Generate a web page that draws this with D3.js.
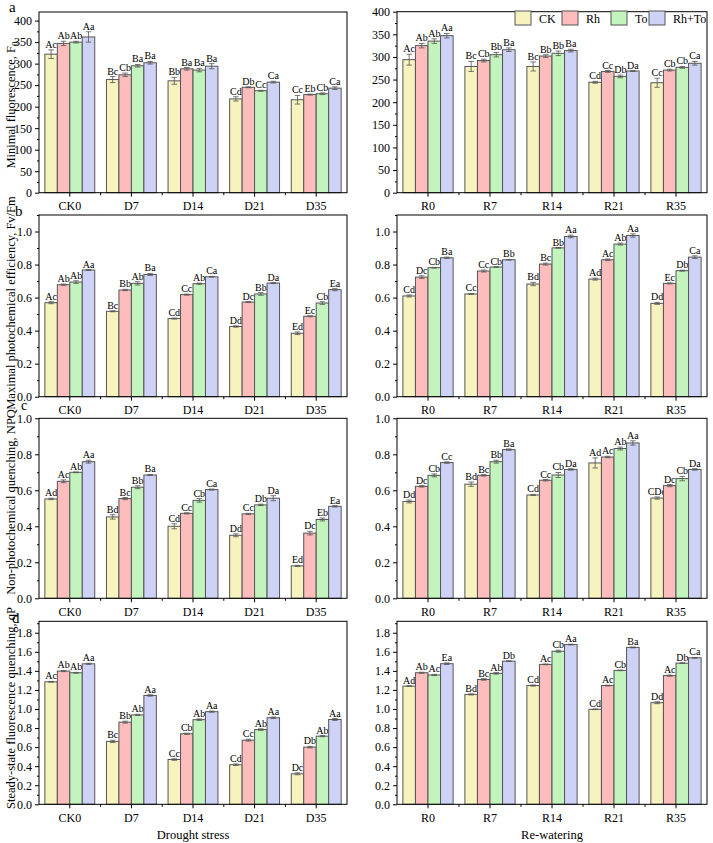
<!DOCTYPE html>
<html>
<head>
<meta charset="utf-8">
<script src="https://cdn.jsdelivr.net/npm/d3@7"></script>
<style>
  body { margin: 0; background: #fff; }
  svg, svg text { font-family: "Liberation Serif", "Times New Roman", serif; }
  .tick text { font-size: 12px; fill: #000; font-family: "Liberation Serif", "Times New Roman", serif; }
  .tick line { stroke: #000; }
</style>
</head>
<body>
<script>
// categories and series
var droughtCats = ["CK0", "D7", "D14", "D21", "D35"];
var rewaterCats = ["R0", "R7", "R14", "R21", "R35"];
var seriesNames = ["CK", "Rh", "To", "Rh+To"];
var seriesColors = ["#f7f3bf", "#fdbdbd", "#c3f4bd", "#ced2f6"];

// a: minimal fluorescence F0
var f0Drought    = [[322, 347, 350, 362], [263, 274, 295, 302], [260, 288, 285, 294], [218, 245, 237, 257], [216, 228, 230, 243]];
var f0DroughtErr = [[10, 5, 2, 12], [7, 4, 3, 3], [8, 3, 4, 6], [5, 1, 1, 2], [10, 1, 2, 3]];
var f0DroughtSig = [["Ac","Ab","Ab","Aa"], ["Bc","Cb","Ba","Ba"], ["Bb","Ba","Ba","Ba"], ["Cd","Db","Cc","Ca"], ["Cc","Eb","Cb","Ca"]];
var f0Rewater    = [[294, 325, 335, 347], [279, 292, 305, 316], [279, 302, 308, 314], [244, 268, 257, 269], [243, 271, 277, 286]];
var f0RewaterErr = [[12, 5, 5, 5], [11, 3, 5, 4], [10, 3, 5, 3], [2, 2, 3, 1], [10, 2, 2, 4]];
var f0RewaterSig = [["Ac","Ab","Ab","Aa"], ["Bc","Cb","Bb","Ba"], ["Bc","Bb","Bb","Ba"], ["Cd","Cc","Db","Da"], ["Cc","Cb","Cb","Ca"]];

// b: Fv/Fm
var fvDrought    = [[0.569, 0.678, 0.694, 0.767], [0.517, 0.646, 0.686, 0.740], [0.473, 0.618, 0.684, 0.726], [0.425, 0.573, 0.622, 0.688], [0.384, 0.487, 0.567, 0.648]];
var fvDroughtErr = [[0.006, 0.004, 0.008, 0.003], [0.003, 0.004, 0.010, 0.006], [0.003, 0.003, 0.004, 0.002], [0.004, 0.003, 0.008, 0.003], [0.008, 0.003, 0.008, 0.006]];
var fvDroughtSig = [["Ac","Ab","Ab","Aa"], ["Bc","Bb","Ab","Ba"], ["Cd","Cc","Ab","Ca"], ["Dd","Dc","Bb","Da"], ["Ed","Ec","Cb","Ea"]];
var fvRewater    = [[0.610, 0.724, 0.781, 0.841], [0.622, 0.761, 0.785, 0.829], [0.682, 0.803, 0.901, 0.970], [0.712, 0.829, 0.924, 0.976], [0.565, 0.686, 0.763, 0.845]];
var fvRewaterErr = [[0.006, 0.008, 0.002, 0.004], [0.003, 0.006, 0.002, 0.002], [0.010, 0.006, 0.002, 0.008], [0.006, 0.005, 0.006, 0.010], [0.006, 0.003, 0.003, 0.008]];
var fvRewaterSig = [["Cd","Dc","Cb","Ba"], ["Cc","Cc","Cb","Bb"], ["Bd","Bc","Bb","Aa"], ["Ad","Ac","Ab","Aa"], ["Dd","Ec","Db","Ca"]];

// c: NPQ
var npqDrought    = [[0.552, 0.650, 0.700, 0.759], [0.452, 0.554, 0.617, 0.685], [0.400, 0.472, 0.544, 0.604], [0.350, 0.469, 0.519, 0.556], [0.180, 0.362, 0.438, 0.511]];
var npqDroughtErr = [[0.004, 0.008, 0.002, 0.008], [0.012, 0.006, 0.008, 0.003], [0.014, 0.003, 0.010, 0.003], [0.008, 0.003, 0.004, 0.014], [0.003, 0.010, 0.008, 0.004]];
var npqDroughtSig = [["Ad","Ac","Ab","Aa"], ["Bd","Bc","Bb","Ba"], ["Cd","Cc","Cb","Ca"], ["Dd","Cc","Db","Da"], ["Ed","Dc","Eb","Ea"]];
var npqRewater    = [[0.538, 0.622, 0.683, 0.754], [0.634, 0.683, 0.759, 0.826], [0.574, 0.656, 0.685, 0.716], [0.752, 0.785, 0.832, 0.863], [0.557, 0.626, 0.665, 0.716]];
var npqRewaterErr = [[0.008, 0.004, 0.008, 0.004], [0.012, 0.004, 0.008, 0.004], [0.003, 0.004, 0.014, 0.004], [0.028, 0.004, 0.008, 0.012], [0.006, 0.006, 0.012, 0.004]];
var npqRewaterSig = [["Dd","Dc","Cb","Cc"], ["Bd","Bc","Bb","Ba"], ["Cd","Cc","Cb","Da"], ["Ad","Ac","Ab","Aa"], ["CDd","Dc","Cb","Da"]];

// d: qP
var qpDrought    = [[1.285, 1.398, 1.380, 1.474], [0.660, 0.862, 0.938, 1.142], [0.470, 0.740, 0.888, 0.972], [0.415, 0.673, 0.784, 0.908], [0.320, 0.600, 0.715, 0.890]];
var qpDroughtErr = [[0.004, 0.006, 0.004, 0.006], [0.012, 0.010, 0.006, 0.008], [0.008, 0.006, 0.008, 0.006], [0.008, 0.010, 0.008, 0.008], [0.010, 0.008, 0.006, 0.010]];
var qpDroughtSig = [["Ac","Ab","Ab","Aa"], ["Bc","Bb","Ab","Aa"], ["Cc","Cb","Ab","Aa"], ["Cd","Cc","Ab","Aa"], ["Dc","Db","Ab","Aa"]];
var qpRewater    = [[1.240, 1.380, 1.357, 1.475], [1.153, 1.310, 1.374, 1.502], [1.246, 1.468, 1.606, 1.676], [0.997, 1.246, 1.405, 1.646], [1.066, 1.350, 1.481, 1.537]];
var qpRewaterErr = [[0.004, 0.006, 0.006, 0.008], [0.006, 0.008, 0.008, 0.004], [0.006, 0.004, 0.010, 0.004], [0.003, 0.004, 0.003, 0.004], [0.010, 0.006, 0.004, 0.004]];
var qpRewaterSig = [["Ad","Ab","Ac","Ea"], ["Bd","Bc","Ab","Db"], ["Cd","Ac","Cb","Aa"], ["Cd","Ac","Cb","Ba"], ["Dd","Ac","Db","Ca"]];

var svg = d3.select("body").append("svg")
    .attr("width", 713)
    .attr("height", 843);

var colL = [39, 347], colR = [397, 707];

function drawPanel(p) {
  var g = svg.append("g");
  var x = d3.scaleBand().domain(p.cats).range(p.cols);
  var bw = x.bandwidth();
  var xs = d3.scaleBand().domain(seriesNames).range([bw * 0.095, bw * 0.905]);
  var y = d3.scaleLinear().domain([0, p.max]).range([p.bottom, p.top]);

  // bars
  p.cats.forEach(function(c, i) {
    seriesNames.forEach(function(s, j) {
      var v = p.vals[i][j], e = p.errs[i][j];
      var bx = x(c) + xs(s), cx = bx + xs.bandwidth() / 2;
      g.append("rect")
        .attr("x", bx).attr("y", y(v))
        .attr("width", xs.bandwidth()).attr("height", y(0) - y(v))
        .style("fill", seriesColors[j])
        .style("stroke", "#555").style("stroke-width", 1);
      // error bar
      var cap = xs.bandwidth() * 0.22;
      g.append("line").attr("x1", cx).attr("x2", cx).attr("y1", y(v - e)).attr("y2", y(v + e))
        .style("stroke", "#555").style("stroke-width", 0.8);
      [v - e, v + e].forEach(function(t) {
        g.append("line").attr("x1", cx - cap).attr("x2", cx + cap).attr("y1", y(t)).attr("y2", y(t))
          .style("stroke", "#555").style("stroke-width", 0.8);
      });
      g.append("text")
        .attr("x", cx).attr("y", y(v + e) - 2)
        .attr("text-anchor", "middle")
        .style("font-size", "10px")
        .text(p.sigs[i][j]);
    });
  });

  // frame
  g.append("rect")
    .attr("x", p.cols[0]).attr("y", p.top)
    .attr("width", p.cols[1] - p.cols[0]).attr("height", p.bottom - p.top)
    .style("fill", "none").style("stroke", "#000").style("stroke-width", 1);

  // y axis, major + minor
  var major = d3.range(0, p.max + 1e-9, p.step);
  var minor = d3.range(p.step / 2, p.max + 1e-9, p.step);
  g.append("g").attr("transform", "translate(" + p.cols[0] + ",0)")
    .call(d3.axisLeft(y).tickValues(major).tickSize(4).tickPadding(3).tickFormat(d3.format(p.fmt)))
    .call(function(a) { a.select(".domain").remove(); });
  g.append("g").attr("transform", "translate(" + p.cols[0] + ",0)")
    .call(d3.axisLeft(y).tickValues(minor).tickSize(2).tickFormat(""))
    .call(function(a) { a.select(".domain").remove(); });

  // x axis
  g.append("g").attr("transform", "translate(0," + p.bottom + ")")
    .call(d3.axisBottom(x).tickSize(4).tickPadding(5))
    .call(function(a) { a.select(".domain").remove(); });
  p.cats.slice(1).forEach(function(c) {
    g.append("line").attr("x1", x(c)).attr("x2", x(c))
      .attr("y1", p.bottom).attr("y2", p.bottom + 2.5)
      .style("stroke", "#000");
  });
  return { x: x, y: y };
}

var layout = [
  { top: 12, bottom: 192.7, max: 420, step: 50, fmt: "d" },
  { top: 215, bottom: 396.7, max: 1.1, step: 0.2, fmt: ".1f" },
  { top: 418.3, bottom: 598.3, max: 1.0, step: 0.2, fmt: ".1f" },
  { top: 621.3, bottom: 804.3, max: 1.92, step: 0.2, fmt: ".1f" }
];
var panelData = [
  [f0Drought, f0DroughtErr, f0DroughtSig, f0Rewater, f0RewaterErr, f0RewaterSig],
  [fvDrought, fvDroughtErr, fvDroughtSig, fvRewater, fvRewaterErr, fvRewaterSig],
  [npqDrought, npqDroughtErr, npqDroughtSig, npqRewater, npqRewaterErr, npqRewaterSig],
  [qpDrought, qpDroughtErr, qpDroughtSig, qpRewater, qpRewaterErr, qpRewaterSig]
];

layout.forEach(function(l, r) {
  var d = panelData[r];
  drawPanel({ cats: droughtCats, cols: colL, top: l.top, bottom: l.bottom, max: l.max, step: l.step, fmt: l.fmt,
              vals: d[0], errs: d[1], sigs: d[2] });
  drawPanel({ cats: rewaterCats, cols: colR, top: r === 0 ? 11.7 : l.top, bottom: l.bottom,
              max: r === 0 ? 400 : l.max, step: l.step, fmt: l.fmt,
              vals: d[3], errs: d[4], sigs: d[5] });
});

// y axis titles
var titles = [
  { cy: 105, parts: [["Minimal fluorescence, F", false], ["0", true]] },
  { cy: 303, parts: [["Maximal photochemical efficiency,  Fv/Fm", false]] },
  { cy: 502, parts: [["Non-photochemical quenching, NPQ", false]] },
  { cy: 708, parts: [["Steady-state fluorescence quenching, qP", false]] }
];
titles.forEach(function(t) {
  var tx = svg.append("text")
    .attr("transform", "translate(15," + t.cy + ") rotate(-90)")
    .attr("text-anchor", "middle")
    .style("font-size", "12.5px");
  t.parts.forEach(function(pt) {
    var ts = tx.append("tspan").text(pt[0]);
    if (pt[1]) ts.attr("dy", 3).style("font-size", "9px");
  });
});

// panel letters
[["a", 9, 12, 15], ["b", 15, 216, 15], ["c", 21, 410, 14], ["d", 12, 623, 15]].forEach(function(l) {
  svg.append("text").attr("x", l[1]).attr("y", l[2])
    .style("font-size", l[3] + "px").text(l[0]);
});

// x axis titles
svg.append("text").attr("x", (colL[0] + colL[1]) / 2).attr("y", 839)
  .attr("text-anchor", "middle").style("font-size", "12.5px").text("Drought stress");
svg.append("text").attr("x", (colR[0] + colR[1]) / 2).attr("y", 839)
  .attr("text-anchor", "middle").style("font-size", "12.5px").text("Re-watering");

// legend
var legendX = [515, 562, 611, 649];
var legend = svg.append("g");
seriesNames.forEach(function(s, j) {
  legend.append("rect")
    .attr("x", legendX[j]).attr("y", 11)
    .attr("width", 16).attr("height", 14)
    .style("fill", seriesColors[j]).style("stroke", "#555").style("stroke-width", 1);
  legend.append("text")
    .attr("x", legendX[j] + 24).attr("y", 22.5)
    .style("font-size", "12px")
    .text(s);
});
</script>
</body>
</html>
